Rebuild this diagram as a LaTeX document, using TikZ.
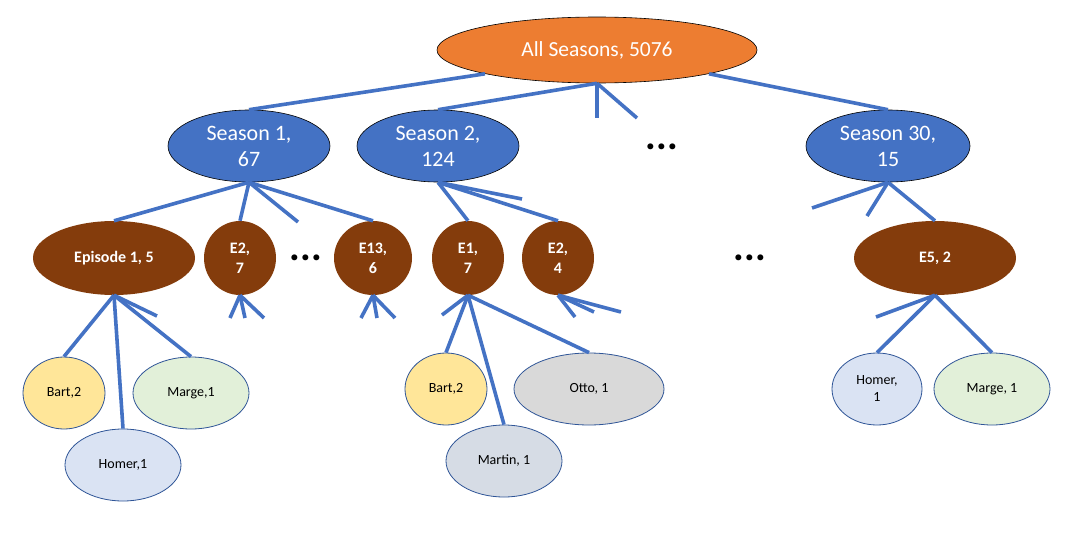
\documentclass[tikz,border=0pt]{standalone}
\usepackage{fontspec}
\setmainfont{Carlito}
\usetikzlibrary{shapes.geometric}
\definecolor{orangeA}{HTML}{ED7D31}
\definecolor{blueA}{HTML}{4472C4}
\definecolor{brownA}{HTML}{843C0C}
\definecolor{leafline}{HTML}{2F5597}
\definecolor{bartc}{HTML}{FFE699}
\definecolor{margec}{HTML}{E2F0D9}
\definecolor{homerc}{HTML}{DAE3F3}
\definecolor{martinc}{HTML}{D6DCE5}
\definecolor{ottoc}{HTML}{D9D9D9}
\begin{document}
\begin{tikzpicture}[x=1pt,y=-1pt,
  ell/.style={ellipse, inner sep=0pt, align=center},
  rootn/.style={ell, fill=orangeA, draw=black, line width=0.6pt, text=white, font=\fontsize{21.5}{24}\selectfont, minimum width=320pt, minimum height=66pt},
  seas/.style={ell, fill=blueA, draw=black, line width=0.6pt, text=white, font=\fontsize{22}{26}\selectfont, minimum width=162pt, minimum height=72pt},
  epi/.style={ell, fill=brownA, text=white, font=\bfseries\fontsize{16}{20}\selectfont, minimum height=74pt},
  leaf/.style={ell, draw=leafline, line width=0.8pt, text=black, font=\fontsize{14}{17}\selectfont, minimum height=72pt},
  conn/.style={draw=blueA, line width=3.6pt},
  dotsn/.style={inner sep=0pt, font=\bfseries\fontsize{40}{40}\selectfont}
]
\useasboundingbox (0,0) rectangle (1088,538);
\fill[white] (0,0) rectangle (1088,538);

% level 0
\node[rootn] (root) at (597,50) {All Seasons, 5076};
% level 1
\node[seas] (s1) at (249,146) {Season 1,\\67};
\node[seas] (s2) at (438,146) {Season 2,\\124};
\node[seas, minimum width=164pt] (s30) at (888,146) {Season 30,\\15};
\node[dotsn] (d1) at (662,147) {...};
% level 2
\node[epi, minimum width=162pt] (ep1) at (114,258) {Episode 1, 5};
\node[epi, minimum width=72pt] (e2) at (240,258) {E2,\\7};
\node[dotsn] (d2) at (306,258) {...};
\node[epi, minimum width=78pt] (e13) at (373,258) {E13,\\6};
\node[epi, minimum width=72pt] (s2e1) at (468,258) {E1,\\7};
\node[epi, minimum width=72pt] (s2e2) at (558,258) {E2,\\4};
\node[dotsn] (d3) at (750,258) {...};
\node[epi, minimum width=162pt] (e5) at (935,258) {E5, 2};
% level 3
\node[leaf, fill=bartc, minimum width=82pt] (bart1) at (64,393) {Bart,2};
\node[leaf, fill=margec, minimum width=116pt] (marge1) at (191,393) {Marge,1};
\node[leaf, fill=homerc, minimum width=116pt] (homer1) at (123,465) {Homer,1};
\node[leaf, fill=bartc, minimum width=82pt] (bart2) at (446,389) {Bart,2};
\node[leaf, fill=ottoc, minimum width=150pt] (otto) at (589,389) {Otto, 1};
\node[leaf, fill=martinc, minimum width=116pt] (martin) at (504,461) {Martin, 1};
\node[leaf, fill=homerc, minimum width=90pt] (homer3) at (877,389) {Homer,\\1};
\node[leaf, fill=margec, minimum width=116pt] (marge3) at (992,389) {Marge, 1};

% free ends of stub connectors
\coordinate (r1) at (597,118);
\coordinate (r2) at (637,118);
\coordinate (s1x) at (298,222);
\coordinate (s2x) at (522,199);
\coordinate (s30a) at (812,208);
\coordinate (s30b) at (867,216);
\coordinate (ep1x) at (157,316);
\coordinate (e2a) at (230,318);
\coordinate (e2b) at (245,318);
\coordinate (e2c) at (264,318);
\coordinate (e13a) at (361,318);
\coordinate (e13b) at (377,318);
\coordinate (e13c) at (395,318);
\coordinate (s2e1x) at (442,315);
\coordinate (s2e2a) at (575,317);
\coordinate (s2e2b) at (594,312);
\coordinate (s2e2c) at (621,312);
\coordinate (e5x) at (876,317);

% connectors
\draw[conn] (root.192) -- (s1.north);
\draw[conn] (root.south) -- (s2.north);
\draw[conn] (root.south) -- (r1);
\draw[conn] (root.south) -- (r2);
\draw[conn] (root.348) -- (s30.north);

\draw[conn] (s1.south) -- (ep1.north);
\draw[conn] (s1.south) -- (e2.north);
\draw[conn] (s1.south) -- (s1x);
\draw[conn] (s1.south) -- (e13.north);

\draw[conn] (s2.south) -- (s2e1.north);
\draw[conn] (s2.south) -- (s2x);
\draw[conn] (s2.south) -- (s2e2.north);

\draw[conn] (s30.south) -- (s30a);
\draw[conn] (s30.south) -- (s30b);
\draw[conn] (s30.south) -- (e5.north);

\draw[conn] (ep1.south) -- (bart1.north);
\draw[conn] (ep1.south) -- (homer1.north);
\draw[conn] (ep1.south) -- (ep1x);
\draw[conn] (ep1.south) -- (marge1.north);

\draw[conn] (e2.south) -- (e2a);
\draw[conn] (e2.south) -- (e2b);
\draw[conn] (e2.south) -- (e2c);
\draw[conn] (e13.south) -- (e13a);
\draw[conn] (e13.south) -- (e13b);
\draw[conn] (e13.south) -- (e13c);

\draw[conn] (s2e1.south) -- (s2e1x);
\draw[conn] (s2e1.south) -- (bart2.north);
\draw[conn] (s2e1.south) -- (martin.north);
\draw[conn] (s2e1.south) -- (otto.north);

\draw[conn] (s2e2.south) -- (s2e2a);
\draw[conn] (s2e2.south) -- (s2e2b);
\draw[conn] (s2e2.south) -- (s2e2c);

\draw[conn] (e5.south) -- (e5x);
\draw[conn] (e5.south) -- (homer3.north);
\draw[conn] (e5.south) -- (marge3.north);
\end{tikzpicture}
\end{document}
